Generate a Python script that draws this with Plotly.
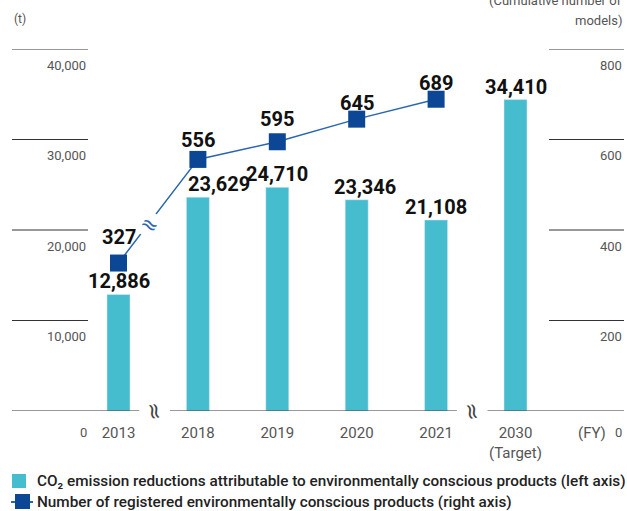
import plotly.graph_objects as go

years = ["2013", "2018", "2019", "2020", "2021", "2030<br>(Target)"]
co2 = [12886, 23629, 24710, 23346, 21108, 34410]
co2_labels = ["12,886", "23,629", "24,710", "23,346", "21,108", "34,410"]
model_years = ["2013", "2018", "2019", "2020", "2021"]
models = [327, 556, 595, 645, 689]
left_ticks = [10000, 20000, 30000, 40000]
left_tick_text = ["10,000", "20,000", "30,000", "40,000"]
right_ticks = [200, 400, 600, 800]
right_tick_text = ["200", "400", "600", "800"]
legend_bar = "CO₂ emission reductions attributable to environmentally conscious products (left axis)"
legend_line = "Number of registered environmentally conscious products (right axis)"

# label nudges (pixels) – style only
bar_label_dx = [0, 21, 0, 8, 0, 0]
line_label_dy = [16, 9, 13, 6, 6]

BAR = "#46BDCE"
MK = "#0B4795"
LN = "#2A66B0"
GRAY = "#555555"
FONT = "Roboto"
W, H = 627, 511
ML, MR, MT, MB = 12, 3, 49, 100
PW = W - ML - MR
PH = H - MT - MB


def px_x(p):
    return (p - ML) / PW


def px_y(p):
    return (H - MB - p) / PH


xpos = list(range(len(years)))
xpos_line = list(range(len(model_years)))

fig = go.Figure()
fig.add_trace(go.Bar(
    x=xpos, y=co2, marker_color=BAR, width=0.29, name=legend_bar, showlegend=False,
    hoverinfo="skip",
))
fig.add_trace(go.Scatter(
    x=xpos_line, y=models, yaxis="y2", mode="lines+markers",
    line=dict(color=LN, width=1.5),
    marker=dict(symbol="square", size=17, color=MK),
    name=legend_line, showlegend=False, hoverinfo="skip",
))

ann = []
shapes = []
for i, (v, t) in enumerate(zip(co2, co2_labels)):
    ann.append(dict(x=xpos[i], y=v, xref="x", yref="y", text=t, showarrow=False,
                    xanchor="center", yanchor="bottom", xshift=bar_label_dx[i], yshift=-1,
                    font=dict(family=FONT, size=20, color="#111111", weight="bold")))
for i, v in enumerate(models):
    ann.append(dict(x=xpos_line[i], y=v, xref="x", yref="y2", text=f"{v:,}", showarrow=False,
                    xanchor="center", yanchor="bottom", yshift=line_label_dy[i] - 4,
                    font=dict(family=FONT, size=20, color="#111111", weight="bold")))

lx1 = px_x(88)
rx0 = px_x(549)
for v, t in zip(left_ticks, left_tick_text):
    shapes.append(dict(type="line", xref="paper", yref="y", x0=0, x1=lx1, y0=v, y1=v,
                       line=dict(color="#333333", width=1)))
    ann.append(dict(x=lx1, y=v, xref="paper", yref="y", text=t, showarrow=False,
                    xanchor="right", yanchor="middle", yshift=-16,
                    font=dict(family=FONT, size=13, color=GRAY)))
for v, t in zip(right_ticks, right_tick_text):
    shapes.append(dict(type="line", xref="paper", yref="y2", x0=rx0, x1=1, y0=v, y1=v,
                       line=dict(color="#333333", width=1)))
    ann.append(dict(x=1, y=v, xref="paper", yref="y2", text=t, showarrow=False,
                    xanchor="right", yanchor="middle", yshift=-16,
                    font=dict(family=FONT, size=13, color=GRAY)))

shapes.append(dict(type="line", xref="paper", yref="y", x0=0, x1=1, y0=0, y1=0,
                   line=dict(color="#333333", width=1)))
for xb in [0.5, 4.5]:
    ann.append(dict(x=xb, y=0, xref="x", yref="y", text="≈", showarrow=False,
                    xanchor="center", yanchor="middle",
                    textangle=78, bgcolor="white", borderpad=2, xshift=-3,
                    font=dict(family="DejaVu Sans", size=22, color="#444444")))
t = 0.4
bx = xpos_line[0] + t * (xpos_line[1] - xpos_line[0])
by = models[0] + t * (models[1] - models[0])
ann.append(dict(x=bx, y=by, xref="x", yref="y2", text="≈", showarrow=False,
                xanchor="center", yanchor="middle",
                textangle=30, bgcolor="white", borderpad=0, yshift=-3,
                font=dict(family="DejaVu Sans", size=21, color=LN)))

ann.append(dict(x=px_x(83), y=0, xref="paper", yref="y", text="0", showarrow=False,
                xanchor="center", yanchor="middle", yshift=-21,
                font=dict(family=FONT, size=13, color=GRAY)))
ann.append(dict(x=1, y=0, xref="paper", yref="y", text="0", showarrow=False, xanchor="right",
                yanchor="middle", yshift=-21, font=dict(family=FONT, size=13, color=GRAY)))
ann.append(dict(x=px_x(592), y=0, xref="paper", yref="y", text="(FY)", showarrow=False,
                xanchor="center", yanchor="middle", yshift=-22,
                font=dict(family=FONT, size=15, color=GRAY)))
ann.append(dict(x=0, y=px_y(19), xref="paper", yref="paper", text="(t)", showarrow=False,
                xanchor="left", yanchor="middle",
                font=dict(family=FONT, size=12, color=GRAY)))
ann.append(dict(x=px_x(624), y=px_y(1), xref="paper", yref="paper",
                text="(Cumulative number of", showarrow=False,
                xanchor="right", yanchor="middle",
                font=dict(family=FONT, size=13, color=GRAY)))
ann.append(dict(x=px_x(624), y=px_y(20), xref="paper", yref="paper",
                text="models)", showarrow=False,
                xanchor="right", yanchor="middle",
                font=dict(family=FONT, size=13, color=GRAY)))

# manual legend
shapes.append(dict(type="rect", xref="paper", yref="paper",
                   x0=px_x(12), x1=px_x(26), y0=px_y(488), y1=px_y(474),
                   fillcolor=BAR, line=dict(width=0)))
shapes.append(dict(type="line", xref="paper", yref="paper",
                   x0=px_x(11), x1=px_x(33), y0=px_y(502), y1=px_y(502),
                   line=dict(color=LN, width=2)))
shapes.append(dict(type="rect", xref="paper", yref="paper",
                   x0=px_x(15), x1=px_x(30), y0=px_y(509), y1=px_y(494),
                   fillcolor=MK, line=dict(width=0)))
ann.append(dict(x=px_x(35), y=px_y(481), xref="paper", yref="paper", text=legend_bar,
                showarrow=False, xanchor="left", yanchor="middle",
                font=dict(family=FONT, size=15.3, color="#222222", weight=500)))
ann.append(dict(x=px_x(35), y=px_y(502), xref="paper", yref="paper", text=legend_line,
                showarrow=False, xanchor="left", yanchor="middle",
                font=dict(family=FONT, size=15.3, color="#222222", weight=500)))

fig.update_layout(
    width=W, height=H,
    margin=dict(l=ML, r=MR, t=MT, b=MB),
    paper_bgcolor="white", plot_bgcolor="white",
    showlegend=False,
    hovermode=False,
    xaxis=dict(range=[(12 - 118.5) / 79.4, (624 - 118.5) / 79.4], tickmode="array",
               tickvals=xpos, ticktext=years, showgrid=False, zeroline=False, showline=False,
               ticks="outside", ticklen=8, tickcolor="rgba(0,0,0,0)",
               tickfont=dict(family=FONT, size=15, color=GRAY)),
    yaxis=dict(range=[0, 40000], showgrid=False, zeroline=False, showticklabels=False),
    yaxis2=dict(range=[0, 800], overlaying="y", side="right", showgrid=False,
                zeroline=False, showticklabels=False),
    annotations=ann, shapes=shapes,
)
fig.write_html("out.html", config={"displayModeBar": False},
               post_script="document.body.style.margin='0';document.body.style.overflow='hidden';")
